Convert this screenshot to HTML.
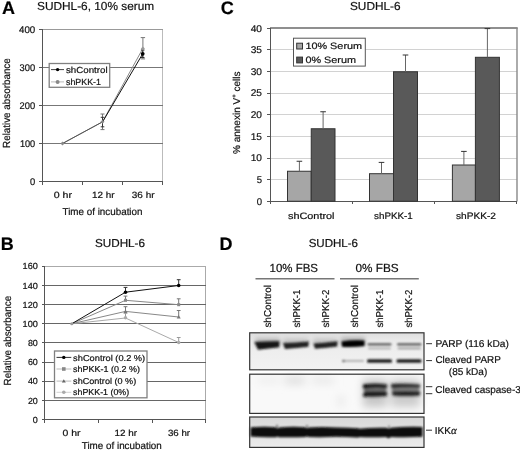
<!DOCTYPE html>
<html><head><meta charset="utf-8">
<style>
html,body{margin:0;padding:0;background:#fff;width:520px;height:450px;overflow:hidden}
svg{display:block;will-change:transform}
text{font-family:"Liberation Sans",sans-serif;fill:#111;text-rendering:geometricPrecision;stroke:#111;stroke-width:0.2px}
.b{font-weight:bold;fill:#000}
</style></head><body>
<svg width="520" height="450" viewBox="0 0 520 450">
<defs>
<filter id="bl1" x="-20%" y="-50%" width="140%" height="200%"><feGaussianBlur stdDeviation="1.2"/></filter>
<filter id="bl15" x="-20%" y="-50%" width="140%" height="200%"><feGaussianBlur stdDeviation="1.4"/></filter>
<filter id="bl2" x="-20%" y="-50%" width="140%" height="200%"><feGaussianBlur stdDeviation="2"/></filter>
<filter id="bl3" x="-30%" y="-80%" width="160%" height="260%"><feGaussianBlur stdDeviation="4"/></filter>
<linearGradient id="g1" x1="0" y1="0" x2="0" y2="1"><stop offset="0" stop-color="#dedede"/><stop offset="0.25" stop-color="#ececec"/><stop offset="1" stop-color="#f2f2f2"/></linearGradient>
<linearGradient id="g3" x1="0" y1="0" x2="0" y2="1"><stop offset="0" stop-color="#d8d8d8"/><stop offset="0.4" stop-color="#e0e0e0"/><stop offset="1" stop-color="#ececec"/></linearGradient>
</defs>
<rect width="520" height="450" fill="#fff"/>

<!-- ============ PANEL A ============ -->
<text class="b" x="1.9" y="13.7" font-size="18">A</text>
<text x="37" y="10.2" font-size="11.6" textLength="117.2" lengthAdjust="spacingAndGlyphs">SUDHL-6, 10% serum</text>
<g stroke-width="1" fill="none" shape-rendering="crispEdges">
  <line x1="42" y1="29.5" x2="163" y2="29.5" stroke="#999"/>
  <line x1="162.5" y1="29.5" x2="162.5" y2="181.5" stroke="#bbb"/>
  <line x1="42" y1="67.5" x2="162.5" y2="67.5" stroke="#777"/>
  <line x1="42" y1="105.5" x2="162.5" y2="105.5" stroke="#777"/>
  <line x1="42" y1="143.5" x2="162.5" y2="143.5" stroke="#777"/>
  <line x1="42.5" y1="29" x2="42.5" y2="182" stroke="#555"/>
  <line x1="42" y1="181.5" x2="163" y2="181.5" stroke="#555"/>
  <line x1="39" y1="29.5" x2="42" y2="29.5" stroke="#555"/>
  <line x1="39" y1="67.5" x2="42" y2="67.5" stroke="#555"/>
  <line x1="39" y1="105.5" x2="42" y2="105.5" stroke="#555"/>
  <line x1="39" y1="143.5" x2="42" y2="143.5" stroke="#555"/>
  <line x1="39" y1="181.5" x2="42" y2="181.5" stroke="#555"/>
  <line x1="42.5" y1="181" x2="42.5" y2="185" stroke="#555"/>
  <line x1="82.5" y1="181" x2="82.5" y2="185" stroke="#555"/>
  <line x1="122.5" y1="181" x2="122.5" y2="185" stroke="#555"/>
  <line x1="162.5" y1="181" x2="162.5" y2="185" stroke="#555"/>
</g>
<g font-size="9.7" text-anchor="end">
  <text x="35.2" y="33" textLength="16.2" lengthAdjust="spacingAndGlyphs">400</text>
  <text x="35.2" y="71" textLength="15.6" lengthAdjust="spacingAndGlyphs">300</text>
  <text x="35.2" y="109" textLength="15.6" lengthAdjust="spacingAndGlyphs">200</text>
  <text x="35.2" y="147" textLength="15.3" lengthAdjust="spacingAndGlyphs">100</text>
  <text x="35.2" y="185" textLength="5.2" lengthAdjust="spacingAndGlyphs">0</text>
</g>
<g font-size="9">
  <text x="53.8" y="198.2" textLength="18.2" lengthAdjust="spacingAndGlyphs">0 hr</text>
  <text x="92" y="198.2" textLength="22.5" lengthAdjust="spacingAndGlyphs">12 hr</text>
  <text x="131.8" y="198.2" textLength="22.7" lengthAdjust="spacingAndGlyphs">36 hr</text>
</g>
<text x="62.5" y="215.2" font-size="10" textLength="80" lengthAdjust="spacingAndGlyphs">Time of incubation</text>
<text transform="translate(10.45,147.95) rotate(-90)" font-size="10.3" textLength="89.7" lengthAdjust="spacingAndGlyphs">Relative absorbance</text>
<!-- data A -->
<g fill="none" stroke-width="1">
  <polyline points="62.5,143.5 102.5,121.8 142.9,48.4" stroke="#888"/>
  <polyline points="102.5,122 142.7,53.8" stroke="#111"/>
  <polyline points="62.5,143.5 102.5,121.9" stroke="#555"/>
  <path d="M102.5 114V129.6M100.5 114H104.5M100.5 129.6H104.5" stroke="#777"/>
  <path d="M102.5 117.3V126.8M100.7 117.3H104.3M100.7 126.8H104.3" stroke="#333"/>
  <path d="M142.9 37.6V58.9M140.7 37.6H145.1M140.7 58.9H145.1" stroke="#777"/>
  <path d="M142.7 50V57.5M140.9 50H144.5M140.9 57.5H144.5" stroke="#333"/>
</g>
<path d="M62.5 141.5L64.5 143.5L62.5 145.5L60.5 143.5Z" fill="#888"/>
<path d="M102.5 119.8L104.5 121.8L102.5 123.8L100.5 121.8Z" fill="#888"/>
<path d="M142.9 46.4L144.9 48.4L142.9 50.4L140.9 48.4Z" fill="#999"/>
<circle cx="142.7" cy="53.8" r="1.9" fill="#000"/>
<!-- legend A -->
<rect x="49.2" y="63.5" width="60.5" height="23.8" fill="#fff" stroke="#808080" stroke-width="1.3"/>
<line x1="51" y1="69.6" x2="64" y2="69.6" stroke="#444" stroke-width="1"/>
<circle cx="57.6" cy="69.6" r="1.7" fill="#000"/>
<line x1="51" y1="81.9" x2="64" y2="81.9" stroke="#bbb" stroke-width="1"/>
<circle cx="57.6" cy="81.9" r="2" fill="#888"/>
<g font-size="8.8">
  <text x="66" y="72.9" textLength="41.6" lengthAdjust="spacingAndGlyphs">shControl</text>
  <text x="66" y="85" textLength="35" lengthAdjust="spacingAndGlyphs">shPKK-1</text>
</g>

<!-- ============ PANEL B ============ -->
<text class="b" x="0.7" y="249.9" font-size="18">B</text>
<text x="95" y="247.2" font-size="11.5" textLength="50" lengthAdjust="spacingAndGlyphs">SUDHL-6</text>
<g stroke-width="1" fill="none" shape-rendering="crispEdges">
  <line x1="45" y1="266.5" x2="205.5" y2="266.5" stroke="#aaa"/>
  <line x1="205.5" y1="266.5" x2="205.5" y2="419.5" stroke="#aaa"/>
  <line x1="45" y1="285.5" x2="205.5" y2="285.5" stroke="#666"/>
  <line x1="45" y1="304.5" x2="205.5" y2="304.5" stroke="#666"/>
  <line x1="45" y1="323.5" x2="205.5" y2="323.5" stroke="#666"/>
  <line x1="45" y1="342.5" x2="205.5" y2="342.5" stroke="#666"/>
  <line x1="45" y1="362.5" x2="205.5" y2="362.5" stroke="#666"/>
  <line x1="45" y1="381.5" x2="205.5" y2="381.5" stroke="#666"/>
  <line x1="45" y1="400.5" x2="205.5" y2="400.5" stroke="#666"/>
  <line x1="44.5" y1="266" x2="44.5" y2="420" stroke="#555"/>
  <line x1="44.5" y1="419.5" x2="206" y2="419.5" stroke="#555"/>
  <line x1="42" y1="266.5" x2="44.5" y2="266.5" stroke="#555"/>
  <line x1="42" y1="285.5" x2="44.5" y2="285.5" stroke="#555"/>
  <line x1="42" y1="304.5" x2="44.5" y2="304.5" stroke="#555"/>
  <line x1="42" y1="323.5" x2="44.5" y2="323.5" stroke="#555"/>
  <line x1="42" y1="342.5" x2="44.5" y2="342.5" stroke="#555"/>
  <line x1="42" y1="362.5" x2="44.5" y2="362.5" stroke="#555"/>
  <line x1="42" y1="381.5" x2="44.5" y2="381.5" stroke="#555"/>
  <line x1="42" y1="400.5" x2="44.5" y2="400.5" stroke="#555"/>
  <line x1="42" y1="419.5" x2="44.5" y2="419.5" stroke="#555"/>
  <line x1="44.5" y1="419" x2="44.5" y2="423" stroke="#555"/>
  <line x1="98.5" y1="419" x2="98.5" y2="423" stroke="#555"/>
  <line x1="152.5" y1="419" x2="152.5" y2="423" stroke="#555"/>
  <line x1="205.5" y1="419" x2="205.5" y2="423" stroke="#555"/>
</g>
<g font-size="8.9" text-anchor="end">
  <text x="37.8" y="269.45" textLength="15.2" lengthAdjust="spacingAndGlyphs">160</text>
  <text x="37.8" y="288.60" textLength="15.2" lengthAdjust="spacingAndGlyphs">140</text>
  <text x="37.8" y="307.80" textLength="15.2" lengthAdjust="spacingAndGlyphs">120</text>
  <text x="37.8" y="326.95" textLength="15.2" lengthAdjust="spacingAndGlyphs">100</text>
  <text x="37.8" y="346.10" textLength="9.9" lengthAdjust="spacingAndGlyphs">80</text>
  <text x="37.8" y="365.30" textLength="9.9" lengthAdjust="spacingAndGlyphs">60</text>
  <text x="37.8" y="384.45" textLength="9.9" lengthAdjust="spacingAndGlyphs">40</text>
  <text x="37.8" y="403.60" textLength="9.9" lengthAdjust="spacingAndGlyphs">20</text>
  <text x="37.8" y="422.70" textLength="5" lengthAdjust="spacingAndGlyphs">0</text>
</g>
<g font-size="9">
  <text x="62.5" y="436.3" textLength="18" lengthAdjust="spacingAndGlyphs">0 hr</text>
  <text x="114.5" y="436.3" textLength="22.5" lengthAdjust="spacingAndGlyphs">12 hr</text>
  <text x="168" y="436.3" textLength="22" lengthAdjust="spacingAndGlyphs">36 hr</text>
</g>
<text x="81.8" y="449.4" font-size="10" textLength="80" lengthAdjust="spacingAndGlyphs">Time of incubation</text>
<text transform="translate(10.9,385.4) rotate(-90)" font-size="10.3" textLength="89.5" lengthAdjust="spacingAndGlyphs">Relative absorbance</text>
<!-- data B -->
<g fill="none" stroke-width="1">
  <polyline points="71.75,323.75 125.5,318 178.7,342.5" stroke="#aaa"/>
  <polyline points="71.75,323.75 125.5,311.4 178.7,317" stroke="#888"/>
  <polyline points="71.75,323.75 125.5,300.3 178.7,304.7" stroke="#888"/>
  <polyline points="71.75,323.75 125.5,292.2 178.7,285.5" stroke="#111"/>
  <path d="M125.5 287.4V292.2M123.6 287.4H127.4" stroke="#333"/>
  <path d="M125.5 296.1V300.3M123.6 296.1H127.4" stroke="#777"/>
  <path d="M125.5 306.7V311.4M123.6 306.7H127.4" stroke="#777"/>
  <path d="M125.5 313.3V317.8M123.6 313.3H127.4" stroke="#999"/>
  <path d="M178.7 279.7V285.5M176.8 279.7H180.6" stroke="#333"/>
  <path d="M178.7 298.8V304.7M176.8 298.8H180.6" stroke="#777"/>
  <path d="M178.7 310.5V317M176.8 310.5H180.6" stroke="#777"/>
  <path d="M178.7 337.5V342.5M176.8 337.5H180.6" stroke="#999"/>
</g>
<circle cx="125.5" cy="292.2" r="1.8" fill="#000"/>
<circle cx="178.7" cy="285.5" r="1.8" fill="#000"/>
<rect x="124" y="298.8" width="3" height="3" fill="#888"/>
<rect x="177.2" y="303.2" width="3" height="3" fill="#888"/>
<path d="M125.5 309.4L127.5 313L123.5 313Z" fill="#777"/>
<path d="M178.7 315L180.7 318.6L176.7 318.6Z" fill="#777"/>
<circle cx="125.5" cy="317.8" r="1.7" fill="#aaa"/>
<circle cx="178.7" cy="342.5" r="1.7" fill="#aaa"/>
<circle cx="71.75" cy="323.75" r="1.6" fill="#999"/>
<!-- legend B -->
<rect x="54.5" y="351" width="92.5" height="46.8" fill="#fff" stroke="#808080" stroke-width="1.3"/>
<g stroke-width="1">
  <line x1="56.5" y1="357.4" x2="71.3" y2="357.4" stroke="#333"/>
  <line x1="56.5" y1="369" x2="71.3" y2="369" stroke="#bbb"/>
  <line x1="56.5" y1="381.1" x2="71.3" y2="381.1" stroke="#bbb"/>
  <line x1="56.5" y1="392.3" x2="71.3" y2="392.3" stroke="#d2d2d2"/>
</g>
<circle cx="63.8" cy="357.4" r="1.7" fill="#000"/>
<rect x="62" y="367.2" width="3.6" height="3.6" fill="#888"/>
<path d="M63.8 379.2L65.8 382.6L61.8 382.6Z" fill="#666"/>
<circle cx="63.8" cy="392.3" r="1.8" fill="#aaa"/>
<g font-size="8.6">
  <text x="73.1" y="360.5" textLength="72.1" lengthAdjust="spacingAndGlyphs">shControl (0.2 %)</text>
  <text x="73.1" y="372" textLength="66.9" lengthAdjust="spacingAndGlyphs">shPKK-1 (0.2 %)</text>
  <text x="73.1" y="383.6" textLength="63.1" lengthAdjust="spacingAndGlyphs">shControl (0 %)</text>
  <text x="73.1" y="395.1" textLength="56.1" lengthAdjust="spacingAndGlyphs">shPKK-1 (0%)</text>
</g>

<!-- ============ PANEL C ============ -->
<text class="b" x="220.8" y="13.7" font-size="18">C</text>
<text x="350" y="10.2" font-size="11.5" textLength="50.5" lengthAdjust="spacingAndGlyphs">SUDHL-6</text>
<g stroke-width="1" fill="none" shape-rendering="crispEdges">
  <line x1="270" y1="49.5" x2="517" y2="49.5" stroke="#d2d2d2"/>
  <line x1="270" y1="71.5" x2="517" y2="71.5" stroke="#d2d2d2"/>
  <line x1="270" y1="93.5" x2="517" y2="93.5" stroke="#d2d2d2"/>
  <line x1="270" y1="114.5" x2="517" y2="114.5" stroke="#d2d2d2"/>
  <line x1="270" y1="136.5" x2="517" y2="136.5" stroke="#d2d2d2"/>
  <line x1="270" y1="158.5" x2="517" y2="158.5" stroke="#d2d2d2"/>
  <line x1="270" y1="179.5" x2="517" y2="179.5" stroke="#d2d2d2"/>
  
</g>
<line x1="270" y1="28" x2="517.7" y2="28" stroke="#6a6a6a" stroke-width="1.6"/>
<line x1="517" y1="28" x2="517" y2="201.5" stroke="#888" stroke-width="1.4"/>
<g stroke-width="1" fill="none" shape-rendering="crispEdges" stroke="#555">
  <line x1="270.5" y1="27.5" x2="270.5" y2="201.5"/>
  <line x1="267" y1="201.5" x2="517" y2="201.5"/>
  <line x1="267" y1="28.5" x2="270" y2="28.5"/>
  <line x1="267" y1="49.5" x2="270" y2="49.5"/>
  <line x1="267" y1="71.5" x2="270" y2="71.5"/>
  <line x1="267" y1="93.5" x2="270" y2="93.5"/>
  <line x1="267" y1="114.5" x2="270" y2="114.5"/>
  <line x1="267" y1="136.5" x2="270" y2="136.5"/>
  <line x1="267" y1="158.5" x2="270" y2="158.5"/>
  <line x1="267" y1="179.5" x2="270" y2="179.5"/>
  <line x1="270.5" y1="201" x2="270.5" y2="204"/>
  <line x1="352.5" y1="201" x2="352.5" y2="204"/>
  <line x1="434.5" y1="201" x2="434.5" y2="204"/>
  <line x1="516.5" y1="201" x2="516.5" y2="204"/>
</g>
<g font-size="9.8" text-anchor="end">
  <text x="262" y="31.5" textLength="11.3" lengthAdjust="spacingAndGlyphs">40</text>
  <text x="262" y="53" textLength="11.3" lengthAdjust="spacingAndGlyphs">35</text>
  <text x="262" y="74.7" textLength="11.3" lengthAdjust="spacingAndGlyphs">30</text>
  <text x="262" y="96.4" textLength="11.3" lengthAdjust="spacingAndGlyphs">25</text>
  <text x="262" y="118" textLength="11.3" lengthAdjust="spacingAndGlyphs">20</text>
  <text x="262" y="139.7" textLength="11.3" lengthAdjust="spacingAndGlyphs">15</text>
  <text x="262" y="161.4" textLength="11.3" lengthAdjust="spacingAndGlyphs">10</text>
  <text x="262" y="183" textLength="5.3" lengthAdjust="spacingAndGlyphs">5</text>
  <text x="262" y="204.75" textLength="5.3" lengthAdjust="spacingAndGlyphs">0</text>
</g>
<g font-size="9.3">
  <text x="288" y="219.4" textLength="46.5" lengthAdjust="spacingAndGlyphs">shControl</text>
  <text x="374" y="219.4" textLength="38.8" lengthAdjust="spacingAndGlyphs">shPKK-1</text>
  <text x="456" y="219.4" textLength="40" lengthAdjust="spacingAndGlyphs">shPKK-2</text>
</g>
<text transform="translate(239.6,154) rotate(-90)" font-size="10"><tspan>% annexin V</tspan><tspan font-size="6" dy="-3.5">+</tspan><tspan dy="3.5"> cells</tspan></text>
<!-- bars C -->
<g stroke="#333" stroke-width="1">
  <rect x="287.5" y="171.25" width="23.75" height="30" fill="#a6a6a6"/>
  <rect x="311.25" y="128.75" width="23.75" height="72.5" fill="#595959"/>
  <rect x="369.5" y="173.7" width="24" height="27.5" fill="#a6a6a6"/>
  <rect x="393.5" y="71.75" width="24" height="129.5" fill="#595959"/>
  <rect x="452.4" y="165" width="23" height="36.25" fill="#a6a6a6"/>
  <rect x="475.4" y="57.3" width="24" height="143.95" fill="#595959"/>
</g>
<g stroke="#666" stroke-width="1" fill="none">
  <path d="M299.4 171.25V161.25"/>
  <path d="M323.1 128.75V111.75"/>
  <path d="M381.5 173.7V162.4"/>
  <path d="M405.5 71.75V55"/>
  <path d="M463.9 165V151.4"/>
  <path d="M487.4 57.3V28.6"/>
</g>
<g stroke="#333" stroke-width="1" fill="none">
  <path d="M296.6 161.25H302.2"/>
  <path d="M320.3 111.75H325.9"/>
  <path d="M378.7 162.4H384.3"/>
  <path d="M402.7 55H408.3"/>
  <path d="M461.1 151.4H466.7"/>
  <path d="M484.6 28.6H490.2"/>
</g>
<!-- legend C -->
<rect x="293.5" y="38.2" width="71.8" height="27.9" fill="#fff" stroke="#555" stroke-width="1"/>
<rect x="296.7" y="43.2" width="5.8" height="5.8" fill="#a6a6a6" stroke="#333" stroke-width="1"/>
<rect x="296.7" y="57.1" width="5.8" height="5.8" fill="#595959" stroke="#333" stroke-width="1"/>
<g font-size="9.2">
  <text x="305.4" y="49.4" textLength="56.7" lengthAdjust="spacingAndGlyphs">10% Serum</text>
  <text x="305.4" y="63.4" textLength="50.7" lengthAdjust="spacingAndGlyphs">0% Serum</text>
</g>

<!-- ============ PANEL D ============ -->
<text class="b" x="219.4" y="249.7" font-size="18">D</text>
<text x="308.7" y="247.2" font-size="11.5" textLength="49.3" lengthAdjust="spacingAndGlyphs">SUDHL-6</text>
<g font-size="11.8">
  <text x="269.5" y="271.8" textLength="48.5" lengthAdjust="spacingAndGlyphs">10% FBS</text>
  <text x="355.5" y="271.8" textLength="43.2" lengthAdjust="spacingAndGlyphs">0% FBS</text>
</g>
<line x1="255.5" y1="278.8" x2="334.5" y2="278.8" stroke="#777" stroke-width="1.4"/>
<line x1="340" y1="278.8" x2="418.8" y2="278.8" stroke="#777" stroke-width="1.4"/>
<g font-size="10">
  <text transform="translate(270.6,327.6) rotate(-90)" textLength="42.5" lengthAdjust="spacingAndGlyphs">shControl</text>
  <text transform="translate(299.6,327.6) rotate(-90)" textLength="38" lengthAdjust="spacingAndGlyphs">shPKK-1</text>
  <text transform="translate(328.8,327.6) rotate(-90)" textLength="38" lengthAdjust="spacingAndGlyphs">shPKK-2</text>
  <text transform="translate(358.1,327.6) rotate(-90)" textLength="42.5" lengthAdjust="spacingAndGlyphs">shControl</text>
  <text transform="translate(383.1,327.6) rotate(-90)" textLength="38" lengthAdjust="spacingAndGlyphs">shPKK-1</text>
  <text transform="translate(412.1,327.6) rotate(-90)" textLength="38" lengthAdjust="spacingAndGlyphs">shPKK-2</text>
</g>
<!-- blot 1 -->
<rect x="249.7" y="332.8" width="174.3" height="37" fill="url(#g1)"/>
<g filter="url(#bl2)" opacity="0.6">
  <rect x="255" y="338" width="25" height="8" fill="#999"/>
  <rect x="283" y="338.5" width="25.5" height="7" fill="#aaa"/>
  <rect x="313" y="338.5" width="24.5" height="7" fill="#aaa"/>
  <rect x="341" y="337.5" width="24" height="8" fill="#888"/>
</g>
<g filter="url(#bl1)">
  <path d="M254.5 342Q267 341 279.5 341.2L279.2 347.2Q268 348.5 258 349.8Z" fill="#141414"/>
  <path d="M283 343Q296 342.5 308.8 341.5L308.3 346.8Q296 348 285 349Z" fill="#202020"/>
  <path d="M313.5 343.5Q326 342.5 337.5 341.3L337.2 346.5Q326 347.8 315 348.8Z" fill="#222"/>
  <path d="M341.5 341.5Q353 339.5 364.5 340.5V346Q353 347.5 342 346.8Z" fill="#000"/>
<rect x="367.5" y="343.3" width="24" height="2.2" rx="1" fill="#555"/>
  <rect x="397" y="343.3" width="24.5" height="2.2" rx="1" fill="#555"/>
  <rect x="368" y="347.6" width="23" height="1.6" rx="1" fill="#aaa"/>
  <rect x="397.5" y="347.6" width="23.5" height="1.6" rx="1" fill="#999"/>
  <rect x="367" y="359.3" width="25" height="3.4" rx="1.5" fill="#1c1c1c"/>
  <rect x="396.5" y="359.3" width="25" height="3.4" rx="1.5" fill="#1c1c1c"/>
  <rect x="343" y="360" width="21" height="1.8" rx="1" fill="#aaa"/>
  <circle cx="343.5" cy="361" r="1.3" fill="#666"/>
</g>
<rect x="249.7" y="332.8" width="174.3" height="37" fill="none" stroke="#333" stroke-width="1.2"/>
<!-- blot 2 -->
<rect x="249.7" y="374.2" width="174.3" height="39.2" fill="#f9f9f9"/>
<g filter="url(#bl3)">
  <rect x="363" y="379" width="24" height="28" fill="#c6c6c6"/>
  <rect x="391" y="379" width="29" height="28" fill="#cbcbcb"/>
  <rect x="258" y="378" width="22" height="5" fill="#eaeaea"/>
  <rect x="285" y="377" width="20" height="7" fill="#dcdcdc"/>
  <rect x="312" y="378" width="22" height="5" fill="#e2e2e2"/>
  <rect x="338" y="396" width="6" height="10" fill="#e6e6e6"/>
</g>
<g filter="url(#bl15)">
  <rect x="364" y="386" width="22" height="8" fill="#777"/>
  <rect x="392" y="386" width="27" height="8" fill="#888"/>
  <path d="M363 384.5Q375 383 387 384.5V388.5Q375 387.5 363.5 389Z" fill="#0a0a0a"/>
  <path d="M364 391.5Q375 390.5 387 391.5V396Q375 397 364.5 396.5Z" fill="#151515"/>
  <path d="M391 384Q405 383.5 420 384.5V388Q405 387.5 391.5 388.5Z" fill="#1e1e1e"/>
  <path d="M392 391Q405 390.5 420 391V395.5Q405 396.5 392.5 395.5Z" fill="#1e1e1e"/>
  <circle cx="365" cy="387" r="2" fill="#000"/>
  <circle cx="365" cy="395" r="2" fill="#111"/>
  <circle cx="393" cy="385.5" r="1.8" fill="#222"/>
</g>
<rect x="249.7" y="374.2" width="174.3" height="39.2" fill="none" stroke="#333" stroke-width="1.2"/>
<!-- blot 3 -->
<rect x="249.7" y="417" width="174.3" height="30.4" fill="url(#g3)"/>
<g filter="url(#bl1)">
  <path d="M250.5 427.5Q263 426 276 427.2L277.5 428.5L279 427.5Q293 426 305.5 427.3L307 428.3L308.5 427.5Q322 426.5 336 427.5Q348 427.8 358 428.3L359.5 428.8Q372 427.5 386 427.8L389 428.6L391 427.8Q406 426.5 422.5 427V436.8Q406 437.6 391 437L388.5 438.2L386 437Q372 437.4 359.5 437L358 437.6Q348 437 336 436.8Q322 437.4 308.5 437L307 436.2L305.5 437Q292 437.6 279 437.2L277.5 436.4L276 437.2Q263 437.6 250.5 436.6Z" fill="#080808"/>
  <circle cx="277" cy="426" r="1" fill="#444"/>
  <circle cx="307" cy="426" r="1" fill="#555"/>
  <circle cx="389" cy="426.5" r="1" fill="#666"/>
</g>
<rect x="249.7" y="417" width="174.3" height="30.4" fill="none" stroke="#333" stroke-width="1.2"/>
<!-- right labels -->
<g stroke="#333" stroke-width="1">
  <line x1="426.2" y1="343.7" x2="432" y2="343.7"/>
  <line x1="426.2" y1="360.6" x2="432" y2="360.6"/>
  <line x1="425.8" y1="386.7" x2="432.3" y2="386.7"/>
  <line x1="425.8" y1="393.7" x2="432.3" y2="393.7"/>
  <line x1="426" y1="430.2" x2="432" y2="430.2"/>
</g>
<g font-size="10">
  <text x="435.4" y="347" textLength="73.4" lengthAdjust="spacingAndGlyphs">PARP (116 kDa)</text>
  <text x="435.4" y="363.3" textLength="65.4" lengthAdjust="spacingAndGlyphs">Cleaved PARP</text>
  <text x="448.8" y="374.6" textLength="38.5" lengthAdjust="spacingAndGlyphs">(85 kDa)</text>
  <text x="435.2" y="393.1">Cleaved caspase-3</text>
  <text x="434.8" y="434">IKK<tspan font-family="Liberation Serif" font-style="italic" font-size="11">α</tspan></text>
</g>
</svg>
</body></html>
